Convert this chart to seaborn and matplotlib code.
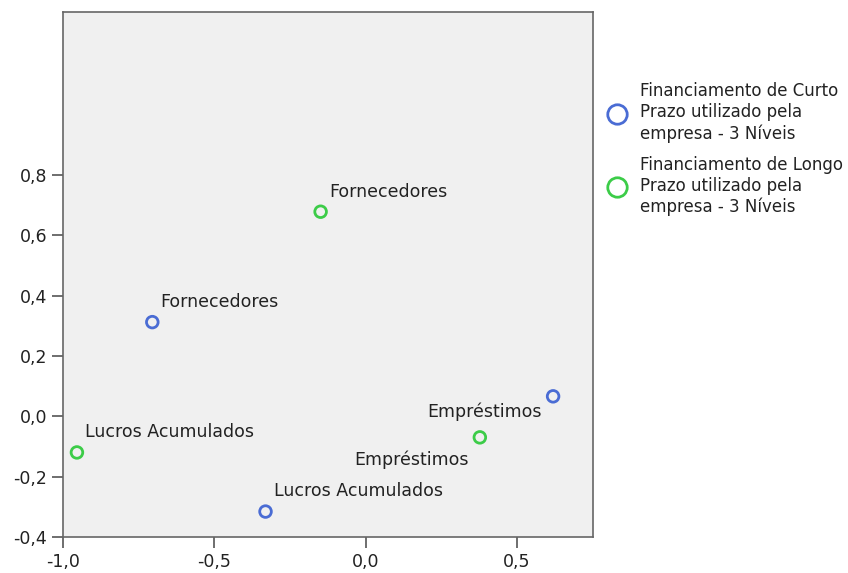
import pandas as pd
import seaborn as sns
import matplotlib.pyplot as plt
from matplotlib.lines import Line2D

# Coordenadas
categorias = ['Fornecedores', 'Lucros Acumulados', 'Empréstimos']
curto_x = [-0.705, -0.331, 0.619]
curto_y = [0.312, -0.316, 0.066]
longo_x = [-0.149, -0.954, 0.377]
longo_y = [0.678, -0.120, -0.070]

serie_curto = 'Financiamento de Curto\nPrazo utilizado pela\nempresa - 3 Níveis'
serie_longo = 'Financiamento de Longo\nPrazo utilizado pela\nempresa - 3 Níveis'

df = pd.concat([
    pd.DataFrame({'x': curto_x, 'y': curto_y, 'cat': categorias, 'serie': serie_curto}),
    pd.DataFrame({'x': longo_x, 'y': longo_y, 'cat': categorias, 'serie': serie_longo}),
], ignore_index=True)

palette = {serie_curto: '#4a6cd4', serie_longo: '#3ccc48'}

sns.set_style('white')
plt.rcParams['font.family'] = ['DejaVu Sans']
plt.rcParams['axes.unicode_minus'] = False

fig = plt.figure(figsize=(8.48, 5.73), dpi=100)
ax = fig.add_axes([0.0743, 0.063, 0.6247, 0.916])
ax.set_facecolor('#f0f0f0')

for serie, cor in palette.items():
    sub = df[df['serie'] == serie]
    sns.scatterplot(data=sub, x='x', y='y', ax=ax, s=70, marker='o',
                    facecolors='none', edgecolor=cor, linewidth=2, legend=False)

# Posições dos rótulos (deslocamento em pontos e alinhamento)
offsets = {
    (serie_curto, 'Fornecedores'): ((6, 8), 'left'),
    (serie_curto, 'Lucros Acumulados'): ((6, 8), 'left'),
    (serie_curto, 'Empréstimos'): ((-8, -18), 'right'),
    (serie_longo, 'Fornecedores'): ((6, 8), 'left'),
    (serie_longo, 'Lucros Acumulados'): ((6, 8), 'left'),
    (serie_longo, 'Empréstimos'): ((-8, -23), 'right'),
}
for _, r in df.iterrows():
    (dx, dy), ha = offsets[(r['serie'], r['cat'])]
    ax.annotate(r['cat'], (r['x'], r['y']), xytext=(dx, dy), textcoords='offset points',
                ha=ha, va='bottom', fontsize=12.5, color='#222222')

ax.set_xlim(-1.0, 0.75)
ax.set_ylim(-0.4, 1.34)
ax.set_xticks([-1.0, -0.5, 0.0, 0.5])
ax.set_yticks([-0.4, -0.2, 0.0, 0.2, 0.4, 0.6, 0.8])
ax.set_xticklabels([f'{v:.1f}'.replace('.', ',') for v in ax.get_xticks()])
ax.set_yticklabels([f'{v:.1f}'.replace('.', ',') for v in ax.get_yticks()])
ax.tick_params(axis='both', direction='out', length=8, width=1.2, color='#555555',
               labelsize=12.5, left=True, bottom=True, labelcolor='#222222')
ax.set_xlabel('')
ax.set_ylabel('')
for sp in ax.spines.values():
    sp.set_color('#666666')
    sp.set_linewidth(1.2)

handles = [Line2D([], [], marker='o', linestyle='none', markersize=14, markerfacecolor='none',
                  markeredgecolor=c, markeredgewidth=2) for c in palette.values()]
fig.legend(handles, list(palette.keys()), loc='upper left', bbox_to_anchor=(0.700, 0.868),
           frameon=False, fontsize=12, handletextpad=0.4, labelspacing=0.8,
           borderaxespad=0, labelcolor='#222222')

plt.savefig('out.png', dpi=100)
